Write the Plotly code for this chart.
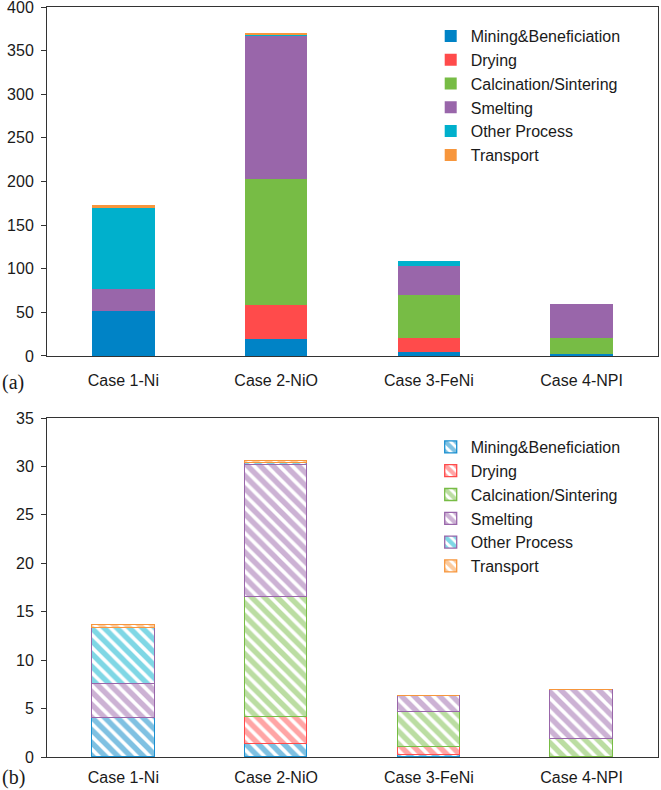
import plotly.graph_objects as go

cases = ["Case 1-Ni", "Case 2-NiO", "Case 3-FeNi", "Case 4-NPI"]
stages = ["Mining&Beneficiation", "Drying", "Calcination/Sintering", "Smelting", "Other Process", "Transport"]

# Panel (a)
a_mining = [52, 19, 4.2, 2.3]
a_drying = [0, 39, 16.5, 0]
a_calc = [0, 145, 49.5, 18]
a_smelting = [25, 164, 33.5, 39]
a_other = [93, 2, 5.7, 0]
a_transport = [3, 1, 0, 0]

# Panel (b)
b_mining = [4.07, 1.38, 0.2, 0]
b_drying = [0, 2.76, 0.83, 0]
b_calc = [0, 12.4, 3.62, 1.83]
b_smelting = [3.45, 13.6, 1.65, 5.07]
b_other = [5.76, 0.17, 0, 0]
b_transport = [0.4, 0.27, 0, 0]

colors = ["#0083c6", "#ff4b4b", "#77bc45", "#9966aa", "#00b0cc", "#f7963c"]
line_colors = ["#1a8fd0", "#ff4b4b", "#77bc45", "#9966aa", "#9966aa", "#f7963c"]

a_series = [a_mining, a_drying, a_calc, a_smelting, a_other, a_transport]
b_series = [b_mining, b_drying, b_calc, b_smelting, b_other, b_transport]

FONT = "Liberation Sans"

fig = go.Figure()
W = 0.41
for name, vals, c in zip(stages, a_series, colors):
    fig.add_trace(go.Bar(x=cases, y=vals, name=name, width=W,
                         marker=dict(color=c, line=dict(width=0)),
                         xaxis="x", yaxis="y", legend="legend"))
for name, vals, c, lc in zip(stages, b_series, colors, line_colors):
    fig.add_trace(go.Bar(x=cases, y=vals, name=name, width=W,
                         marker=dict(color=c, line=dict(width=1.3, color=lc),
                                     pattern=dict(shape="\\", fgcolor=c, bgcolor="white",
                                                  size=9, solidity=0.6)),
                         xaxis="x2", yaxis="y2", legend="legend2"))

axis_common = dict(showline=True, linecolor="#333333", linewidth=1, mirror=True,
                   showgrid=False, zeroline=False, automargin=False,
                   ticklabeloverflow="allow",
                   tickfont=dict(family=FONT, size=16, color="#1a1a1a"))

plot_h = 790 - 7 - 33
plot_w = 661 - 47 - 3

fig.update_layout(
    width=661, height=790,
    margin=dict(l=47, r=3, t=7, b=33, autoexpand=False),
    paper_bgcolor="white", plot_bgcolor="white",
    barmode="stack", bargap=0,
    font=dict(family=FONT, size=16, color="#1a1a1a"),
    xaxis=dict(domain=[0, 1], anchor="y", ticks="", ticklabelstandoff=10, **axis_common),
    yaxis=dict(domain=[0.5347, 1], anchor="x", range=[0, 400], dtick=50,
               ticks="outside", ticklen=5, tickcolor="#333333", ticklabelstandoff=4, **axis_common),
    xaxis2=dict(domain=[0, 1], anchor="y2", ticks="", ticklabelstandoff=6, **axis_common),
    yaxis2=dict(domain=[0, 0.452], anchor="x2", range=[0, 35], dtick=5,
                ticks="outside", ticklen=5, tickcolor="#333333", ticklabelstandoff=4, **axis_common),
    legend=dict(x=0.628, y=(757 - 19) / plot_h, xanchor="left", yanchor="top", traceorder="normal",
                bgcolor="rgba(0,0,0,0)", font=dict(family=FONT, size=16, color="#1a1a1a")),
    legend2=dict(x=0.628, y=(757 - 430) / plot_h, xanchor="left", yanchor="top", traceorder="normal",
                 bgcolor="rgba(0,0,0,0)", font=dict(family=FONT, size=16, color="#1a1a1a")),
)

anns = []
for txt, px_y in [("(a)", 382), ("(b)", 777)]:
    anns.append(dict(text=txt, x=(13 - 47) / plot_w, y=(790 - 33 - px_y) / plot_h,
                     xref="paper", yref="paper", showarrow=False, xanchor="center", yanchor="middle",
                     font=dict(family="Liberation Serif", size=20, color="#1a1a1a")))
fig.update_layout(annotations=anns)

fig.write_html("out.html", config={"displayModeBar": False},
               post_script="document.body.style.margin='0px';document.body.style.overflow='hidden';")
